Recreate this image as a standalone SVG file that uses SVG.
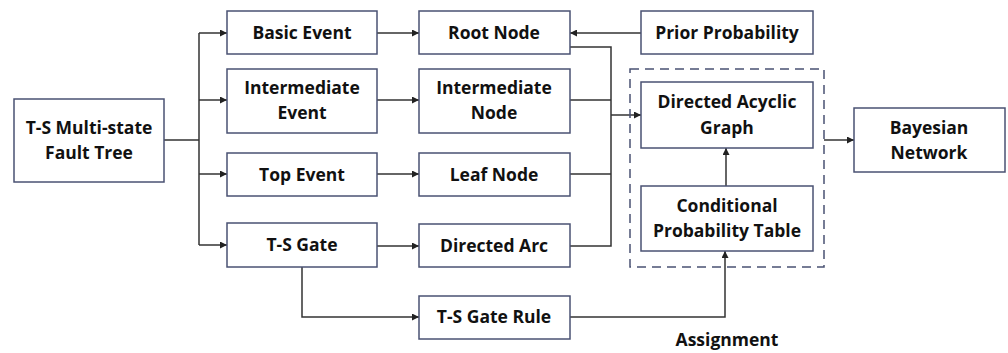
<svg xmlns="http://www.w3.org/2000/svg" width="1008" height="353" viewBox="0 0 1008 353">
<defs>
<marker id="ah" viewBox="0 0 10 10" refX="10" refY="5" markerWidth="7" markerHeight="7" markerUnits="userSpaceOnUse" orient="auto">
<path d="M0,0 L10,5 L0,10 z" fill="#222"/>
</marker>
<style>
.box{fill:#fff;stroke:#4a5273;stroke-width:1.5}
.dash{fill:none;stroke:#4a5273;stroke-width:1.5;stroke-dasharray:9,6}
.lbl{font-family:"Open Sans","Noto Sans","Liberation Sans",sans-serif;font-weight:bold;font-size:17.5px;fill:#111;text-anchor:middle}
.c{fill:none;stroke:#333;stroke-width:1.5}
.ca{fill:none;stroke:#333;stroke-width:1.5;marker-end:url(#ah)}
</style>
</defs>
<rect width="1008" height="353" fill="#fff"/>
<g id="connectors">
<path class="c" d="M164,140 H199 M199,33 V245"/>
<path class="ca" d="M199,33 H227"/>
<path class="ca" d="M199,100 H227"/>
<path class="ca" d="M199,174 H227"/>
<path class="ca" d="M199,245 H227"/>
<path class="ca" d="M377,33 H419"/>
<path class="ca" d="M377,100 H419"/>
<path class="ca" d="M377,174 H419"/>
<path class="ca" d="M377,246 H419"/>
<path class="ca" d="M641,33 H570"/>
<path class="c" d="M570,47 H611 V246 H570 M570,100 H611 M570,174 H611"/>
<path class="ca" d="M611,115 H641"/>
<path class="ca" d="M726,186 V148"/>
<path class="ca" d="M824,140 H854"/>
<path class="ca" d="M302,267 V317 H419"/>
<path class="ca" d="M570,317 H725 V251"/>
</g>
<g id="group-dashed"><rect class="dash" x="630" y="69" width="194" height="198"/></g>
<g id="n-ft"><rect class="box" x="14" y="99" width="150" height="83"/><text class="lbl" x="89" y="134">T-S Multi-state</text><text class="lbl" x="89" y="159">Fault Tree</text></g>
<g id="n-basic"><rect class="box" x="227" y="11" width="150" height="43"/><text class="lbl" x="302" y="39">Basic Event</text></g>
<g id="n-inter"><rect class="box" x="227" y="69" width="150" height="64"/><text class="lbl" x="302" y="94">Intermediate</text><text class="lbl" x="302" y="119">Event</text></g>
<g id="n-top"><rect class="box" x="227" y="153" width="150" height="43"/><text class="lbl" x="302" y="181">Top Event</text></g>
<g id="n-gate"><rect class="box" x="227" y="223" width="150" height="44"/><text class="lbl" x="302" y="251">T-S Gate</text></g>
<g id="n-root"><rect class="box" x="419" y="11" width="151" height="43"/><text class="lbl" x="494" y="39">Root Node</text></g>
<g id="n-inode"><rect class="box" x="419" y="69" width="151" height="64"/><text class="lbl" x="494" y="94">Intermediate</text><text class="lbl" x="494" y="119">Node</text></g>
<g id="n-leaf"><rect class="box" x="419" y="153" width="151" height="43"/><text class="lbl" x="494" y="181">Leaf Node</text></g>
<g id="n-arc"><rect class="box" x="419" y="224" width="151" height="43"/><text class="lbl" x="494" y="252">Directed Arc</text></g>
<g id="n-rule"><rect class="box" x="419" y="296" width="151" height="43"/><text class="lbl" x="494" y="323">T-S Gate Rule</text></g>
<g id="n-prior"><rect class="box" x="641" y="11" width="172" height="43"/><text class="lbl" x="727" y="39">Prior Probability</text></g>
<g id="n-dag"><rect class="box" x="641" y="82" width="172" height="66"/><text class="lbl" x="727" y="108">Directed Acyclic</text><text class="lbl" x="727" y="134">Graph</text></g>
<g id="n-cpt"><rect class="box" x="641" y="186" width="172" height="65"/><text class="lbl" x="727" y="212">Conditional</text><text class="lbl" x="727" y="237">Probability Table</text></g>
<g id="n-bn"><rect class="box" x="854" y="108" width="151" height="64"/><text class="lbl" x="929" y="134">Bayesian</text><text class="lbl" x="929" y="159">Network</text></g>
<g id="label-assign"><text class="lbl" x="727" y="346">Assignment</text></g>
</svg>
